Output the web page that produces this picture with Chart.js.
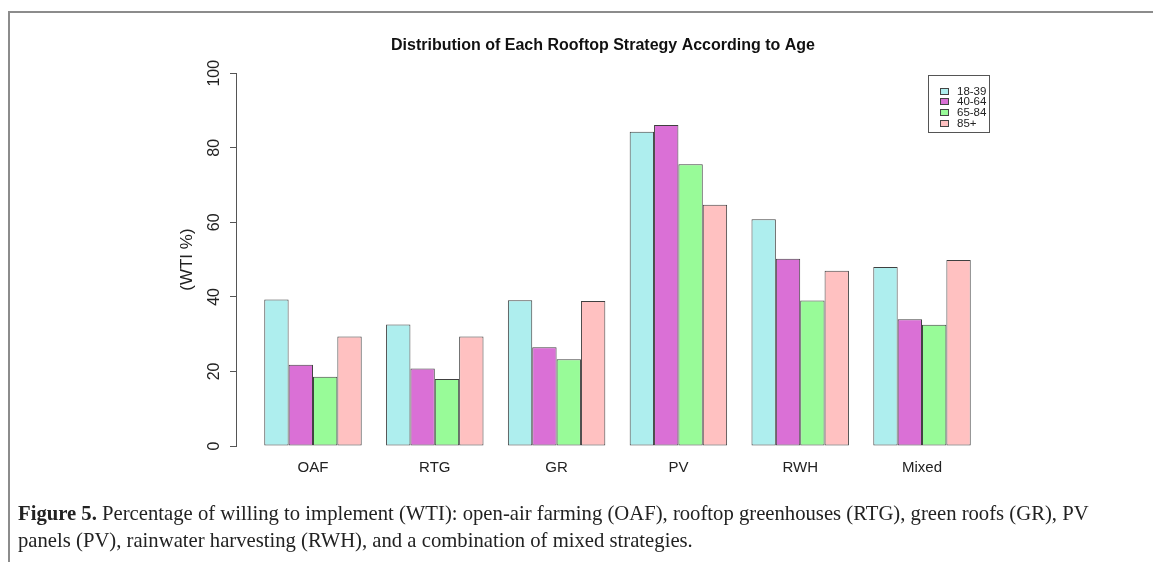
<!DOCTYPE html>
<html>
<head>
<meta charset="utf-8">
<script src="https://cdn.jsdelivr.net/npm/chart.js@4.4.1/dist/chart.umd.min.js"></script>
<style>
  html, body { margin: 0; padding: 0; background: #fff; }
  body { width: 1153px; height: 562px; position: relative; overflow: hidden; }
  #frame { position: absolute; left: 8px; top: 11px; right: 0; bottom: 0;
    border-top: 2px solid #8c8c8c; border-left: 2px solid #8c8c8c; }
  #chart-box { position: absolute; left: 0; top: 0; width: 1153px; height: 562px; }
  #legend { position: absolute; left: 928px; top: 75px; width: 60px; height: 56px;
    border: 1px solid #555; font-family: 'Liberation Sans', Arial, sans-serif;
    font-size: 11.5px; color: #222; }
  #legend .row { position: absolute; left: 0; height: 11px; line-height: 11px; white-space: nowrap; }
  #legend .sw { position: absolute; left: 11px; top: 2px; width: 7px; height: 5px; border: 1px solid #444; }
  #legend .tx { position: absolute; left: 28px; top: 0; }
  #caption { position: absolute; left: 18px; top: 499px; width: 1200px;
    font-family: 'Liberation Serif', 'DejaVu Serif', serif; font-size: 22px;
    line-height: 27px; color: #222; transform: scaleX(0.94); transform-origin: left top; }
</style>
</head>
<body>
<div id="frame"></div>
<div id="chart-box"><canvas id="chart"></canvas></div>
<div id="legend"></div>
<div id="caption"><b>Figure 5.</b> Percentage of willing to implement (WTI): open-air farming (OAF), rooftop greenhouses (RTG), green roofs (GR), PV<br>panels (PV), rainwater harvesting (RWH), and a combination of mixed strategies.</div>
<script>
// categories and series
const strategies = ['OAF', 'RTG', 'GR', 'PV', 'RWH', 'Mixed'];
const ageGroups = ['18-39', '40-64', '65-84', '85+'];
const age18to39 = [39.3, 32.6, 39.1, 84.3, 60.8, 48.0];
const age40to64 = [21.8, 20.8, 26.5, 86.1, 50.2, 34.0];
const age65to84 = [18.6, 18.0, 23.3, 75.6, 39.0, 32.5];
const age85plus = [29.4, 29.4, 38.9, 64.7, 47.0, 49.9];
const yTicks = [0, 20, 40, 60, 80, 100];
const colors = ['#AEEEEE', '#DA70D6', '#98FB98', '#FFC1C1'];

const seriesValues = [age18to39, age40to64, age65to84, age85plus];
const font = "'Liberation Sans', Arial, sans-serif";

// legend box (R style)
const legend = document.getElementById('legend');
ageGroups.forEach((g, i) => {
  const row = document.createElement('div');
  row.className = 'row';
  row.style.top = (9.5 + i * 10.7) + 'px';
  row.innerHTML = '<span class="sw" style="background:' + colors[i] + '"></span><span class="tx">' + g + '</span>';
  legend.appendChild(row);
});

const datasets = ageGroups.map((g, i) => ({
  label: g,
  data: seriesValues[i].map((v, j) => ({ x: j + 1, y: v })),
  backgroundColor: colors[i],
  borderColor: '#404040',
  borderWidth: 1,
  borderSkipped: false,
  categoryPercentage: 0.8,
  barPercentage: 1.0
}));

new Chart(document.getElementById('chart').getContext('2d'), {
  type: 'bar',
  data: { datasets: datasets },
  options: {
    responsive: true,
    maintainAspectRatio: false,
    animation: false,
    layout: { padding: { left: 207, right: 154, top: 0, bottom: 76 } },
    plugins: {
      legend: { display: false },
      tooltip: { enabled: false },
      title: {
        display: true,
        text: 'Distribution of Each Rooftop Strategy According to Age',
        color: '#111',
        font: { family: font, size: 16, weight: 'bold' },
        padding: { top: 36, bottom: 18 }
      }
    },
    scales: {
      x: {
        type: 'linear',
        min: 0.368,
        max: 6.632,
        offset: false,
        grid: { display: false },
        border: { display: false },
        afterBuildTicks: (scale) => { scale.ticks = strategies.map((s, i) => ({ value: i + 1 })); },
        afterFit: (scale) => { scale.height = 40; },
        ticks: {
          color: '#222',
          font: { family: font, size: 15 },
          padding: 5,
          maxRotation: 0,
          autoSkip: false,
          callback: (v) => strategies[Math.round(v) - 1]
        }
      },
      y: {
        min: 0,
        max: 100,
        afterBuildTicks: (scale) => { scale.ticks = yTicks.map(v => ({ value: v })); },
        afterFit: (scale) => { scale.width = 29; },
        border: { display: true, color: '#555', width: 1 },
        grid: { drawOnChartArea: false, drawTicks: true, tickLength: 6, color: '#555' },
        ticks: {
          color: '#222',
          font: { family: font, size: 16 },
          padding: 2,
          minRotation: 90,
          maxRotation: 90,
          crossAlign: 'center'
        },
        title: {
          display: true,
          text: '(WTI %)',
          color: '#222',
          font: { family: font, size: 17 },
          padding: { top: -30, bottom: 0 }
        }
      }
    }
  }
});
</script>
</body>
</html>
